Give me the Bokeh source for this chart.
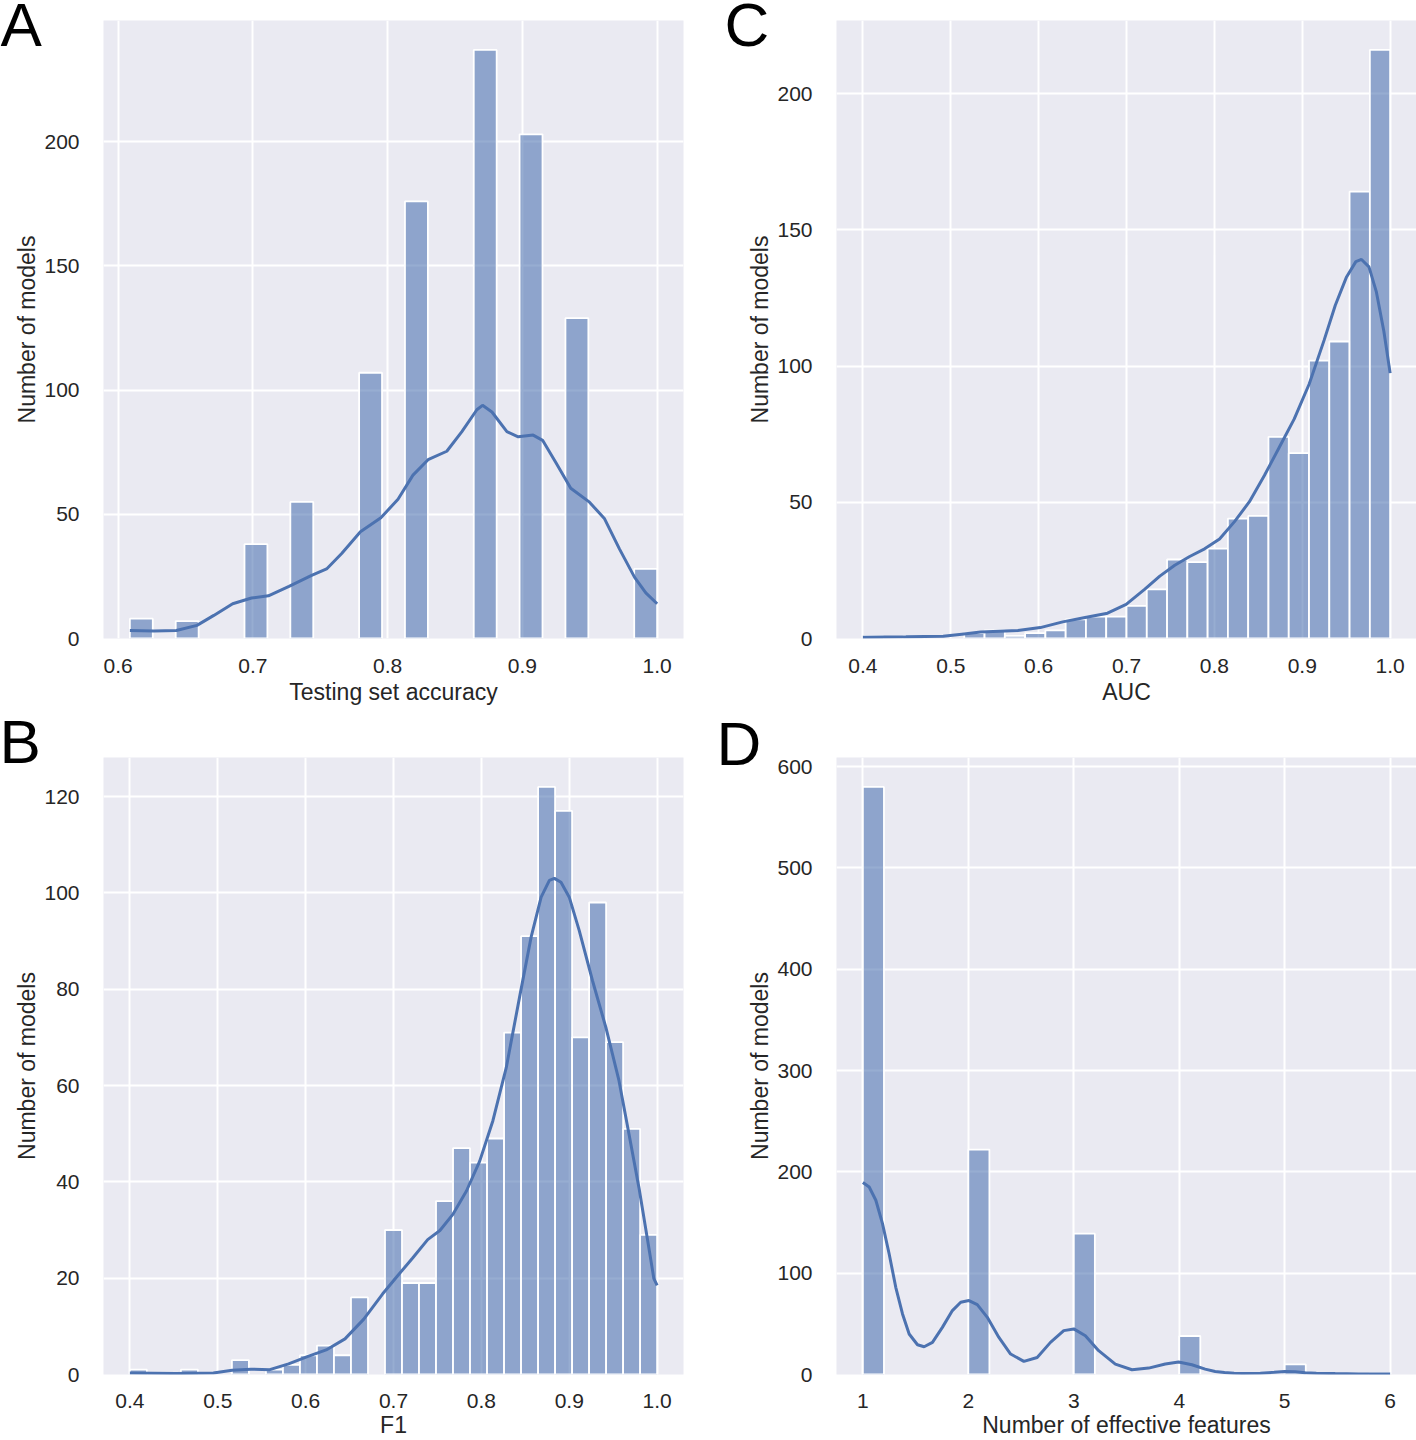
from bokeh.plotting import figure
from bokeh.models import Range1d, FixedTicker, NumeralTickFormatter, GridBox
from bokeh.core.properties import value
from bokeh.embed import file_html
from bokeh.resources import INLINE

# ---------------- data ----------------
# Panel A: testing set accuracy (23 equal bins from 14/23 to 1.0)
acc_bin_lo = 14 / 23
acc_bin_hi = 1.0
acc_counts = [8, 0, 7, 0, 0, 38, 0, 55, 0, 0, 107, 0, 176, 0, 0, 237, 0, 203, 0, 129, 0, 0, 28]
acc_kde_x = [0.6087, 0.6265, 0.6432, 0.6585, 0.671, 0.685, 0.699, 0.7115, 0.7268, 0.7436,
             0.7547, 0.7659, 0.7798, 0.795, 0.8077, 0.8188, 0.83, 0.8439, 0.8551, 0.8662,
             0.8704, 0.8774, 0.8885, 0.8969, 0.908, 0.915, 0.9247, 0.9359, 0.9498, 0.961,
             0.9721, 0.9833, 0.9916, 1.0]
acc_kde_y = [3.2, 3.0, 3.2, 5.3, 9.3, 14.0, 16.3, 17.2, 21.0, 25.4,
             28.0, 34.2, 43.0, 48.6, 56.1, 65.8, 72.0, 75.4, 83.3, 92.1,
             93.9, 91.2, 83.3, 81.2, 81.9, 79.8, 71.0, 60.5, 54.9, 48.2,
             36.0, 24.6, 18.4, 14.0]
acc_xticks = [0.6, 0.7, 0.8, 0.9, 1.0]
acc_yticks = [0, 50, 100, 150, 200]

# Panel C: AUC (26 bins from 0.4 to 1.0)
auc_bin_lo = 0.4
auc_bin_hi = 1.0
auc_counts = [1, 0, 1, 0, 0, 2, 3, 1, 2, 3, 7, 8, 8, 12, 18, 29, 28, 33, 44, 45,
              74, 68, 102, 109, 164, 216]
auc_kde_x = [0.4, 0.4489, 0.4914, 0.5126, 0.5339, 0.5764, 0.6019, 0.6274, 0.6529, 0.6784,
             0.6996, 0.7209, 0.7379, 0.7549, 0.7719, 0.7889, 0.8059, 0.8229, 0.8399, 0.8569,
             0.8739, 0.8909, 0.9079, 0.9249, 0.9376, 0.9504, 0.961, 0.9674, 0.9759, 0.9844,
             0.9929, 1.0]
auc_kde_y = [0.5, 0.6, 0.8, 1.6, 2.4, 2.9, 4.0, 6.1, 7.7, 9.3,
             12.5, 18.1, 22.9, 26.9, 30.1, 32.9, 36.5, 42.9, 50.2, 59.8,
             70.2, 80.6, 93.4, 109.5, 122.3, 132.7, 138.3, 139.1, 136.4, 127.1,
             112.7, 97.4]
auc_xticks = [0.4, 0.5, 0.6, 0.7, 0.8, 0.9, 1.0]
auc_yticks = [0, 50, 100, 150, 200]

# Panel B: F1 (31 bins from 0.4 to 1.0)
f1_bin_lo = 0.4
f1_bin_hi = 1.0
f1_counts = [1, 0, 0, 1, 0, 0, 3, 0, 1, 2, 4, 6, 4, 16, 0, 30, 19, 19, 36, 47,
             44, 49, 71, 91, 122, 117, 70, 98, 69, 51, 29]
f1_kde_x = [0.4, 0.4522, 0.495, 0.5164, 0.5378, 0.5592, 0.5806, 0.602, 0.6234, 0.6448,
            0.6662, 0.6875, 0.7047, 0.7218, 0.7389, 0.7528, 0.7678, 0.783, 0.7981, 0.8131,
            0.8283, 0.8434, 0.8566, 0.868, 0.8774, 0.8831, 0.8906, 0.9, 0.9113, 0.9264,
            0.9416, 0.9566, 0.968, 0.9793, 0.9887, 0.9963, 1.0]
f1_kde_y = [0.3, 0.2, 0.3, 0.9, 1.1, 1.0, 2.2, 3.7, 5.1, 7.4,
            11.5, 16.7, 20.5, 24.2, 28.0, 29.9, 33.3, 38.1, 44.3, 52.7,
            63.7, 78.3, 90.8, 99.1, 102.6, 103.0, 102.2, 99.1, 92.2, 81.8,
            72.1, 61.0, 49.9, 38.8, 28.4, 19.9, 18.5]
f1_xticks = [0.4, 0.5, 0.6, 0.7, 0.8, 0.9, 1.0]
f1_yticks = [0, 20, 40, 60, 80, 100, 120]

# Panel D: number of effective features (25 bins from 1 to 6)
feat_bin_lo = 1.0
feat_bin_hi = 6.0
feat_counts = [580, 0, 0, 0, 0, 222, 0, 0, 0, 0, 139, 0, 0, 0, 0, 38, 0, 0, 0, 0,
               10, 0, 0, 0, 1]
feat_kde_x = [1.0, 1.06, 1.123, 1.186, 1.249, 1.312, 1.376, 1.439, 1.518, 1.581,
              1.66, 1.754, 1.849, 1.928, 2.006, 2.085, 2.18, 2.29, 2.401, 2.527,
              2.653, 2.779, 2.905, 3.0, 3.11, 3.236, 3.394, 3.552, 3.71, 3.868,
              3.994, 4.12, 4.246, 4.341, 4.43, 4.52, 4.6, 4.769, 4.9, 5.0,
              5.1, 5.195, 5.3, 5.479, 5.7, 6.0]
feat_kde_y = [189.5, 185.1, 172.0, 148.9, 119.2, 86.1, 59.8, 40.0, 29.4, 27.4,
              31.7, 46.5, 63.1, 71.3, 73.0, 69.0, 56.4, 36.6, 20.2, 12.9,
              16.8, 31.7, 43.3, 45.0, 38.3, 23.5, 10.3, 4.7, 6.3, 10.3,
              12.3, 9.6, 5.3, 3.0, 2.0, 1.3, 1.0, 1.3, 2.2, 3.0,
              2.6, 1.7, 1.2, 0.9, 0.6, 0.4]
feat_xticks = [1, 2, 3, 4, 5, 6]
feat_yticks = [0, 100, 200, 300, 400, 500, 600]

y_label = "Number of models"
panel_letters = ["A", "C", "B", "D"]

# ---------------- styling ----------------
FONT = "Liberation Sans"
BG = "#EAEAF2"
BAR = "#4C72B0"
TXT = "#262626"


def make_panel(width, height, mbl, mbr, mbt, mbb, lo, hi, counts, kx, ky,
               xticks, yticks, xfmt, xlabel, x_std, xl_std):
    n = len(counts)
    w = (hi - lo) / n
    pad = (hi - lo) * 0.05
    x0, x1 = lo - pad, hi + pad
    ymax = max(counts) * 1.05
    p = figure(width=width, height=height, output_backend="svg", toolbar_location=None,
               x_range=Range1d(x0, x1), y_range=Range1d(0, ymax),
               min_border_left=mbl, min_border_right=mbr, min_border_top=mbt,
               min_border_bottom=mbb, sizing_mode="fixed", align="start")
    p.background_fill_color = BG
    p.border_fill_color = None
    p.outline_line_color = None
    left = [lo + i * w for i in range(n) if counts[i] > 0]
    right = [lo + (i + 1) * w for i in range(n) if counts[i] > 0]
    top = [c for c in counts if c > 0]
    p.quad(left=left, right=right, bottom=0, top=top, fill_color=BAR, fill_alpha=0.58,
           line_color="white", line_width=1.8)
    p.line(kx, ky, line_color=BAR, line_width=3)

    for g in (p.xgrid, p.ygrid):
        g.grid_line_color = "white"
        g.grid_line_width = 2
    p.xaxis.ticker = FixedTicker(ticks=xticks)
    p.yaxis.ticker = FixedTicker(ticks=yticks)
    if xfmt:
        p.xaxis.formatter = NumeralTickFormatter(format=xfmt)
    for ax in (p.xaxis, p.yaxis):
        ax.axis_line_color = None
        ax.major_tick_line_color = None
        ax.minor_tick_line_color = None
        ax.major_label_text_font = FONT
        ax.major_label_text_font_size = "21px"
        ax.major_label_text_color = TXT
        ax.axis_label_text_font = FONT
        ax.axis_label_text_font_size = "23px"
        ax.axis_label_text_font_style = "normal"
        ax.axis_label_text_color = TXT
    p.xaxis.axis_label = xlabel
    p.yaxis.axis_label = y_label
    p.xaxis.major_label_standoff = x_std
    p.xaxis.axis_label_standoff = xl_std
    p.yaxis.major_label_standoff = 18
    p.yaxis.axis_label_standoff = 1
    return p


def make_letter(letter, width, height, tx, ty):
    # transparent overlay canvas, same size as its panel, holding the panel letter
    q = figure(width=width, height=height, output_backend="svg", toolbar_location=None,
               x_range=Range1d(0, width), y_range=Range1d(0, height),
               x_axis_type=None, y_axis_type=None, min_border=0,
               sizing_mode="fixed", align="start")
    try:
        q.frame_align = False   # keep this overlay's frame = its whole canvas
    except Exception:
        pass
    q.grid.visible = False
    q.outline_line_color = None
    q.background_fill_color = None
    q.border_fill_color = None
    q.text(x=[tx], y=[height - ty], text=[letter], text_font=value(FONT),
           text_font_size="62px", text_color="black",
           text_baseline="middle", text_align="left")
    return q


H1, H2 = 712, 728
pA = make_panel(720, H1, 103, 37, 20, 74, acc_bin_lo, acc_bin_hi, acc_counts,
                acc_kde_x, acc_kde_y, acc_xticks, acc_yticks, "0.0",
                "Testing set accuracy", 14, 3)
pC = make_panel(696, H1, 116, 0, 20, 74, auc_bin_lo, auc_bin_hi, auc_counts,
                auc_kde_x, auc_kde_y, auc_xticks, auc_yticks, "0.0",
                "AUC", 14, 3)
pB = make_panel(720, H2, 103, 37, 45, 65, f1_bin_lo, f1_bin_hi, f1_counts,
                f1_kde_x, f1_kde_y, f1_xticks, f1_yticks, "0.0",
                "F1", 13, 1)
pD = make_panel(696, H2, 116, 0, 45, 65, feat_bin_lo, feat_bin_hi, feat_counts,
                feat_kde_x, feat_kde_y, feat_xticks, feat_yticks, None,
                "Number of effective features", 13, 1)

lA = make_letter(panel_letters[0], 720, H1, 0, 24)
lC = make_letter(panel_letters[1], 696, H1, 4, 24)
lB = make_letter(panel_letters[2], 720, H2, -1, 29)
lD = make_letter(panel_letters[3], 696, H2, -4, 31)

grid = GridBox(children=[(pA, 0, 0), (lA, 0, 0), (pC, 0, 1), (lC, 0, 1),
                         (pB, 1, 0), (lB, 1, 0), (pD, 1, 1), (lD, 1, 1)], spacing=0)
open("out.html", "w").write(file_html(grid, INLINE))
